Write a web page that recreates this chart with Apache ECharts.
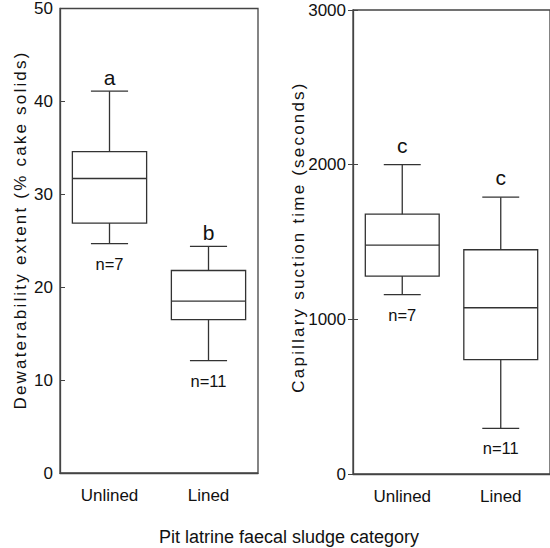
<!DOCTYPE html>
<html>
<head>
<meta charset="utf-8">
<script src="https://cdn.jsdelivr.net/npm/echarts@6/dist/echarts.min.js"></script>
<style>
  html, body { margin: 0; padding: 0; background: #fff; }
  #main { width: 550px; height: 548px; }
</style>
</head>
<body>
<div id="main"></div>
<script>
// categories
var categories = ["Unlined", "Lined"];
// [min, q1, median, q3, max]
var dewaterBoxes = [
  [24.7, 26.9, 31.7, 34.6, 41.1],
  [12.1, 16.5, 18.5, 21.8, 24.4]
];
var cstBoxes = [
  [1160, 1280, 1480, 1680, 2000],
  [295, 740, 1075, 1450, 1790]
];
var dewaterLetters = ["a", "b"];
var cstLetters = ["c", "c"];
var sampleSizes = ["n=7", "n=11"];

var leftTitle = "Dewaterability extent (% cake solids)";
var rightTitle = "Capillary suction time (seconds)";
var bottomTitle = "Pit latrine faecal sludge category";

var FONT = "Liberation Sans, Arial, sans-serif";
var INK = "#333";
var AXIS = "#444";

var chart = echarts.init(document.getElementById("main"), null, { renderer: "svg" });

// box with short whisker caps (half the box width)
function makeRender(letters, letterGap) {
  return function (params, api) {
    var i = api.value(0);
    var band = api.size([1, 0])[0];
    var half = band * 0.75 / 2;
    var cap = half / 2;
    var lo = api.coord([i, api.value(1)]);
    var q1 = api.coord([i, api.value(2)]);
    var med = api.coord([i, api.value(3)]);
    var q3 = api.coord([i, api.value(4)]);
    var hi = api.coord([i, api.value(5)]);
    var x = lo[0];
    var line = { stroke: INK, lineWidth: 1.3 };
    return {
      type: "group",
      children: [
        { type: "rect", shape: { x: x - half, y: q3[1], width: half * 2, height: q1[1] - q3[1] }, style: { fill: "#fff", stroke: INK, lineWidth: 1.3 } },
        { type: "line", shape: { x1: x - half, y1: med[1], x2: x + half, y2: med[1] }, style: line },
        { type: "line", shape: { x1: x, y1: q3[1], x2: x, y2: hi[1] }, style: line },
        { type: "line", shape: { x1: x, y1: q1[1], x2: x, y2: lo[1] }, style: line },
        { type: "line", shape: { x1: x - cap, y1: hi[1], x2: x + cap, y2: hi[1] }, style: line },
        { type: "line", shape: { x1: x - cap, y1: lo[1], x2: x + cap, y2: lo[1] }, style: line },
        { type: "text", style: { text: letters[i], x: x, y: hi[1] - letterGap, align: "center", verticalAlign: "bottom", fontSize: 21, fontFamily: FONT, fill: "#111" } },
        { type: "text", style: { text: sampleSizes[i], x: x, y: lo[1] + 20, align: "center", verticalAlign: "middle", fontSize: 16.5, fontFamily: FONT, fill: "#111" } }
      ]
    };
  };
}

function toData(boxes) {
  return boxes.map(function (b, i) { return [i].concat(b); });
}

function xAxisFor(gridIndex) {
  return {
    type: "category",
    gridIndex: gridIndex,
    data: categories,
    boundaryGap: true,
    axisLine: { lineStyle: { color: AXIS, width: 1.3 } },
    axisTick: { inside: true, length: 6, alignWithLabel: true, lineStyle: { color: AXIS } },
    axisLabel: { color: "#111", fontSize: 17, fontFamily: FONT, margin: 14 },
    splitLine: { show: false }
  };
}

function plain(v) { return String(v); }

chart.setOption({
  animation: false,
  textStyle: { fontFamily: FONT },
  grid: [
    { left: 60, top: 7.5, width: 198, height: 465.5, show: true, borderColor: AXIS, borderWidth: 1.3 },
    { left: 353, top: 10, width: 198, height: 464, show: true, borderColor: AXIS, borderWidth: 1.3 }
  ],
  xAxis: [xAxisFor(0), xAxisFor(1)],
  yAxis: [
    {
      type: "value", gridIndex: 0, min: 0, max: 50, interval: 10,
      axisLine: { show: true, lineStyle: { color: AXIS, width: 1.3 } },
      axisTick: { show: true, inside: true, length: 5, lineStyle: { color: AXIS } },
      axisLabel: { color: "#111", fontSize: 17, fontFamily: FONT, margin: 7, formatter: plain },
      splitLine: { show: false }
    },
    {
      type: "value", gridIndex: 1, min: 0, max: 3000, interval: 1000,
      axisLine: { show: true, lineStyle: { color: AXIS, width: 1.3 } },
      axisTick: { show: true, inside: false, length: 5, lineStyle: { color: AXIS } },
      axisLabel: { color: "#111", fontSize: 17, fontFamily: FONT, margin: 7, formatter: plain },
      splitLine: { show: false }
    },
    {
      // inner half of the crossing ticks on the right panel
      type: "value", gridIndex: 1, position: "left", min: 0, max: 3000, interval: 1000,
      axisLine: { show: false },
      axisTick: { show: true, inside: true, length: 5, lineStyle: { color: AXIS } },
      axisLabel: { show: false },
      splitLine: { show: false }
    }
  ],
  graphic: [
    {
      type: "text", x: 20, y: 230, rotation: Math.PI / 2,
      style: { text: leftTitle, align: "center", verticalAlign: "middle", fontSize: 17, fontFamily: FONT, fill: "#111" }
    },
    {
      type: "text", x: 298, y: 237, rotation: Math.PI / 2,
      style: { text: rightTitle, align: "center", verticalAlign: "middle", fontSize: 17, fontFamily: FONT, fill: "#111" }
    },
    {
      type: "text", x: 289, y: 537,
      style: { text: bottomTitle, align: "center", verticalAlign: "middle", fontSize: 18, fontFamily: FONT, fill: "#111" }
    }
  ],
  series: [
    {
      type: "custom", xAxisIndex: 0, yAxisIndex: 0,
      encode: { x: 0, y: [1, 2, 3, 4, 5] },
      renderItem: makeRender(dewaterLetters, 3),
      data: toData(dewaterBoxes)
    },
    {
      type: "custom", xAxisIndex: 1, yAxisIndex: 1,
      encode: { x: 0, y: [1, 2, 3, 4, 5] },
      renderItem: makeRender(cstLetters, 9),
      data: toData(cstBoxes)
    }
  ]
});

// the axis titles in the original are letter-spaced
function spaceTitles() {
  var texts = document.querySelectorAll("#main svg text");
  texts.forEach(function (t) {
    if (t.textContent === leftTitle || t.textContent === rightTitle) {
      t.style.letterSpacing = "2.2px";
    }
  });
}
spaceTitles();
chart.on("finished", spaceTitles);
</script>
</body>
</html>
